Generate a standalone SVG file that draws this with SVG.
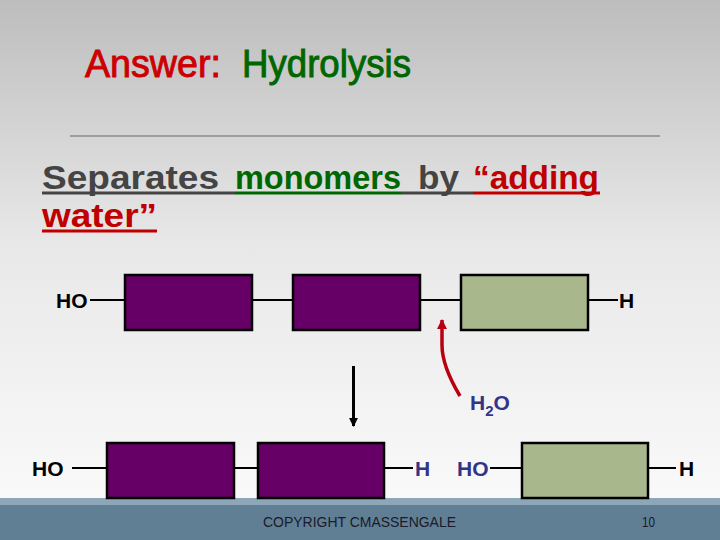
<svg xmlns="http://www.w3.org/2000/svg" width="720" height="540" viewBox="0 0 720 540">
<defs>
<linearGradient id="bg" x1="0" y1="0" x2="0" y2="1">
<stop offset="0" stop-color="#bdbdbd"/>
<stop offset="0.45" stop-color="#e8e8e8"/>
<stop offset="1" stop-color="#fcfcfc"/>
</linearGradient>
<marker id="redHead" viewBox="0 0 10 10" refX="9" refY="5" markerWidth="3" markerHeight="3" orient="auto" markerUnits="strokeWidth">
<path d="M0,0 L10,5 L0,10 z" fill="#b80010"/>
</marker>
<marker id="blackHead" viewBox="0 0 10 10" refX="9" refY="5" markerWidth="3" markerHeight="3" orient="auto" markerUnits="strokeWidth">
<path d="M0,0 L10,5 L0,10 z" fill="#000"/>
</marker>
<style>
.purple{fill:#660066;stroke:#000;stroke-width:2.5}
.sage{fill:#a9b88c;stroke:#000;stroke-width:2.5}
.bond{stroke:#000;stroke-width:2;fill:none}
.lbl{font-family:"Liberation Sans",Arial,sans-serif;font-size:21px;font-weight:bold;fill:#000}
.blue{fill:#333388}
.head{font-family:"Liberation Sans",Arial,sans-serif;font-size:38px;stroke-width:0.9}
.big{font-family:"Liberation Sans",Arial,sans-serif;font-size:34px;font-weight:bold}
</style>
</defs>
<rect width="720" height="540" fill="url(#bg)"/>
<!-- footer -->
<rect x="0" y="498" width="720" height="8" fill="#8da7b8"/>
<rect x="0" y="505" width="720" height="35" fill="#607f94"/>
<text x="263" y="527" font-family="'Liberation Sans',sans-serif" font-size="14" fill="#1a1a28" textLength="193" lengthAdjust="spacingAndGlyphs">COPYRIGHT CMASSENGALE</text>
<text x="642" y="527" font-family="'Liberation Sans',sans-serif" font-size="14" fill="#1a1a28" textLength="13" lengthAdjust="spacingAndGlyphs">10</text>
<!-- title -->
<g id="title">
<text class="head" x="85" y="77" fill="#cc0000" stroke="#cc0000" textLength="136" lengthAdjust="spacingAndGlyphs">Answer:</text>
<text class="head" x="242" y="77" fill="#006600" stroke="#006600" textLength="169" lengthAdjust="spacingAndGlyphs">Hydrolysis</text>
</g>
<line x1="70" y1="136" x2="660" y2="136" stroke="#8a8a8a" stroke-width="1.5"/>
<!-- subtitle -->
<g id="subtitle">
<text class="big" x="42" y="189" fill="#444444" textLength="177" lengthAdjust="spacingAndGlyphs">Separates</text>
<text class="big" x="235" y="189" fill="#006600" textLength="166" lengthAdjust="spacingAndGlyphs">monomers</text>
<text class="big" x="418" y="189" fill="#444444" textLength="41" lengthAdjust="spacingAndGlyphs">by</text>
<text class="big" x="473" y="189" fill="#c00000" textLength="126" lengthAdjust="spacingAndGlyphs">“adding</text>
<text class="big" x="42" y="227" fill="#c00000" textLength="115" lengthAdjust="spacingAndGlyphs">water”</text>
<line x1="42" y1="193" x2="235" y2="193" stroke="#444444" stroke-width="3"/>
<line x1="235" y1="193" x2="401" y2="193" stroke="#006600" stroke-width="3"/>
<line x1="401" y1="193" x2="473" y2="193" stroke="#444444" stroke-width="3"/>
<line x1="473" y1="193" x2="600" y2="193" stroke="#c00000" stroke-width="3"/>
<line x1="42" y1="231" x2="157" y2="231" stroke="#c00000" stroke-width="3"/>
</g>
<!-- connectors -->
<g id="connectors">
<line class="bond" x1="90" y1="300" x2="125" y2="300"/>
<line class="bond" x1="252" y1="300" x2="293" y2="300"/>
<line class="bond" x1="420" y1="300" x2="461" y2="300"/>
<line class="bond" x1="588" y1="300" x2="618" y2="300"/>
<line class="bond" x1="72" y1="468" x2="107" y2="468"/>
<line class="bond" x1="234" y1="468" x2="258" y2="468"/>
<line class="bond" x1="384" y1="468" x2="413" y2="468"/>
<line class="bond" x1="490" y1="468" x2="522" y2="468"/>
<line class="bond" x1="648" y1="468" x2="676" y2="468"/>
<path d="M460,396 Q442,366 442,345 L442,320" fill="none" stroke="#b80010" stroke-width="3.5" marker-end="url(#redHead)"/>
<line x1="353.5" y1="366" x2="353.5" y2="426" stroke="#000" stroke-width="3" marker-end="url(#blackHead)"/>
</g>
<!-- top row -->
<g id="top-HO"><text class="lbl" x="56" y="308">HO</text></g>
<g id="top-m1"><rect class="purple" x="125" y="275" width="127" height="55"/></g>
<g id="top-m2"><rect class="purple" x="293" y="275" width="127" height="55"/></g>
<g id="top-m3"><rect class="sage" x="461" y="275" width="127" height="55"/></g>
<g id="top-H"><text class="lbl" x="619" y="308">H</text></g>
<g id="water"><text class="lbl blue" x="470" y="410">H<tspan font-size="15" dy="6">2</tspan><tspan dy="-6">O</tspan></text></g>
<!-- bottom row -->
<g id="bot-HO"><text class="lbl" x="32" y="476">HO</text></g>
<g id="bot-m1"><rect class="purple" x="107" y="443" width="127" height="55"/></g>
<g id="bot-m2"><rect class="purple" x="258" y="443" width="126" height="55"/></g>
<g id="bot-H1"><text class="lbl blue" x="415" y="476">H</text></g>
<g id="bot-HO2"><text class="lbl blue" x="457" y="476">HO</text></g>
<g id="bot-m3"><rect class="sage" x="522" y="443" width="126" height="55"/></g>
<g id="bot-H2"><text class="lbl" x="679" y="476">H</text></g>
</svg>
